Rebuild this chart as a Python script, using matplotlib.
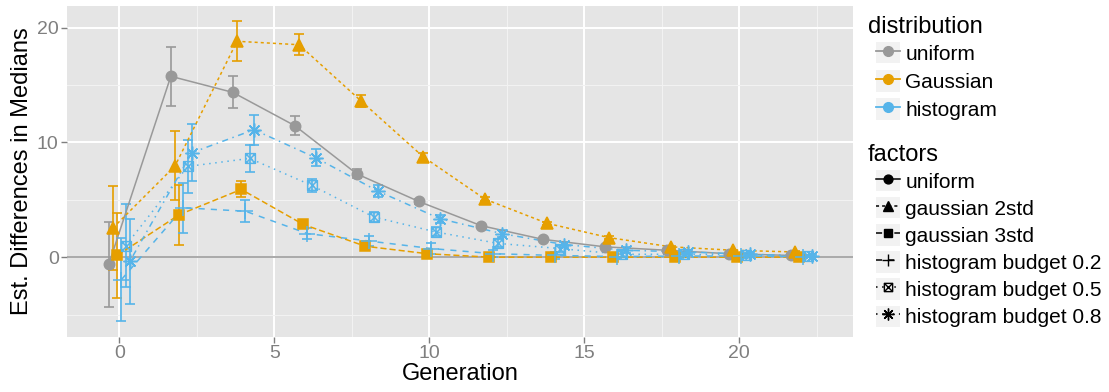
import numpy as np
import matplotlib.pyplot as plt
from matplotlib.lines import Line2D
from matplotlib.patches import Rectangle
from matplotlib.path import Path
from matplotlib.legend_handler import HandlerLine2D

plt.rcParams['font.family'] = ['Liberation Sans', 'DejaVu Sans']

# median differences (mean and standard error) per generation
generations = [0, 2, 4, 6, 8, 10, 12, 14, 16, 18, 20, 22]

uniform_med = [-0.6, 15.75, 14.35, 11.45, 7.25, 4.85, 2.75, 1.55, 0.9, 0.6, 0.3, 0.15]
uniform_err = [3.7, 2.55, 1.4, 0.8, 0.4, 0.25, 0.15, 0.1, 0.1, 0.05, 0.05, 0.05]

gauss2_med = [2.55, 7.95, 18.8, 18.5, 13.6, 8.75, 5.05, 2.95, 1.7, 0.9, 0.6, 0.45]
gauss2_err = [3.65, 3.0, 1.75, 0.9, 0.5, 0.3, 0.2, 0.15, 0.1, 0.1, 0.05, 0.05]

gauss3_med = [0.15, 3.7, 5.9, 2.85, 0.95, 0.3, 0.0, 0.0, 0.0, 0.0, 0.0, 0.0]
gauss3_err = [3.7, 2.6, 0.7, 0.3, 0.15, 0.1, 0.05, 0.05, 0.05, 0.05, 0.05, 0.05]

hist02_med = [-1.95, 4.3, 4.0, 2.05, 1.4, 0.75, 0.3, 0.15, 0.05, 0.1, 0.1, 0.05]
hist02_err = [3.65, 2.2, 0.95, 0.5, 0.4, 0.5, 0.3, 0.3, 0.25, 0.2, 0.2, 0.15]

hist05_med = [1.0, 7.9, 8.6, 6.25, 3.5, 2.2, 1.2, 0.75, 0.25, 0.25, 0.2, 0.1]
hist05_err = [3.6, 2.3, 1.15, 0.55, 0.45, 0.4, 0.35, 0.3, 0.25, 0.2, 0.15, 0.1]

hist08_med = [-0.35, 9.1, 11.1, 8.65, 5.75, 3.35, 2.05, 1.1, 0.6, 0.45, 0.25, 0.1]
hist08_err = [3.7, 2.5, 1.3, 0.75, 0.5, 0.35, 0.3, 0.25, 0.25, 0.2, 0.15, 0.1]

dist_names = ['uniform', 'Gaussian', 'histogram']
dist_colors = ['#999999', '#E69F00', '#56B4E9']

factor_names = ['uniform', 'gaussian 2std', 'gaussian 3std',
                'histogram budget 0.2', 'histogram budget 0.5', 'histogram budget 0.8']

# square with a cross inside (R pch 7)
boxx = Path([(-1, -1), (1, -1), (1, 1), (-1, 1), (-1, -1),
             (-1, -1), (1, 1), (-1, 1), (1, -1)],
            [Path.MOVETO, Path.LINETO, Path.LINETO, Path.LINETO, Path.CLOSEPOLY,
             Path.MOVETO, Path.LINETO, Path.MOVETO, Path.LINETO])

series = [
    (uniform_med, uniform_err, 0, 'o', '-', 7.5, True),
    (gauss2_med, gauss2_err, 1, '^', (0, (2, 2)), 8, True),
    (gauss3_med, gauss3_err, 1, 's', (0, (4, 2)), 7, True),
    (hist02_med, hist02_err, 2, '+', (0, (4, 4)), 11, False),
    (hist05_med, hist05_err, 2, boxx, (0, (1, 3)), 7, False),
    (hist08_med, hist08_err, 2, (8, 2, 0), (0, (1, 3, 4, 3)), 10, False),
]

fig = plt.figure(figsize=(11.09, 3.92), dpi=100)
ax = fig.add_axes([0.0604, 0.141, 0.7086, 0.8445])
ax.set_facecolor('#E5E5E5')

ax.axhline(0, color='#A3A3A3', lw=1.3, zorder=1)

offsets = np.linspace(-1, 1, 6) * 0.34
gen = np.array(generations)
for i, (med, err, d, mk, ls, ms, filled) in enumerate(series):
    x = gen + offsets[i]
    col = dist_colors[d]
    ax.errorbar(x, med, yerr=err, fmt='none', ecolor=col, elinewidth=1.2,
                capsize=3.6, capthick=1.2, zorder=2)
    ax.plot(x, med, color=col, lw=1.1, ls=ls, zorder=3)
    ax.plot(x, med, ls='none', marker=mk, ms=ms,
            mfc=col if filled else 'none', mec=col, mew=1.1, zorder=4)

ax.set_xticks([0, 5, 10, 15, 20])
ax.set_yticks([0, 10, 20])
ax.set_xticks(np.arange(2.5, 25, 5), minor=True)
ax.set_yticks([-5, 5, 15], minor=True)
ax.set_xlim(-1.69, 23.66)
ax.set_ylim(-6.93, 21.9)
ax.grid(which='major', color='white', lw=1.4)
ax.grid(which='minor', color='#F2F2F2', lw=0.8)
ax.set_axisbelow(True)
for s in ax.spines.values():
    s.set_visible(False)
ax.tick_params(which='major', length=4, width=1, color='#7F7F7F',
               labelcolor='#7F7F7F', labelsize=14, pad=2)
ax.tick_params(which='minor', length=0)

ax.set_xlabel('Generation', fontsize=17, labelpad=1)
ax.set_ylabel('Est. Differences in Medians', fontsize=17, labelpad=3)


class KeyHandler(HandlerLine2D):
    # legend key drawn on a light grey square
    def create_artists(self, legend, orig_handle, xdescent, ydescent,
                       width, height, fontsize, trans):
        bg = Rectangle((-xdescent, -ydescent), width, height,
                       facecolor='#F2F2F2', edgecolor='none', transform=trans)
        arts = super().create_artists(legend, orig_handle, xdescent, ydescent,
                                      width, height, fontsize, trans)
        return [bg] + list(arts)


dist_handles = [Line2D([], [], color=c, lw=1.3, marker='o', ms=7) for c in dist_colors]
factor_handles = []
for med, err, d, mk, ls, ms, filled in series:
    factor_handles.append(Line2D([], [], color='black', lw=1.1, ls=ls, marker=mk,
                                 ms=ms * 0.85, mfc='black' if filled else 'none',
                                 mec='black', mew=1.0))

common = dict(frameon=False, loc='upper left', fontsize=15,
              handlelength=1.15, handleheight=1.2,
              handletextpad=0.25, borderpad=0, borderaxespad=0,
              handler_map={Line2D: KeyHandler(numpoints=1)})

fig.text(868 / 1109, 1 - 27 / 392, 'distribution', fontsize=17, va='center', ha='left')
fig.legend(dist_handles, dist_names, bbox_to_anchor=(876 / 1109, 1 - 42 / 392),
           labelspacing=0.31, **common)
fig.text(868 / 1109, 1 - 155 / 392, 'factors', fontsize=17, va='center', ha='left')
fig.legend(factor_handles, factor_names, bbox_to_anchor=(876 / 1109, 1 - 170 / 392),
           labelspacing=0.26, **common)

fig.savefig('out.png', dpi=100)
